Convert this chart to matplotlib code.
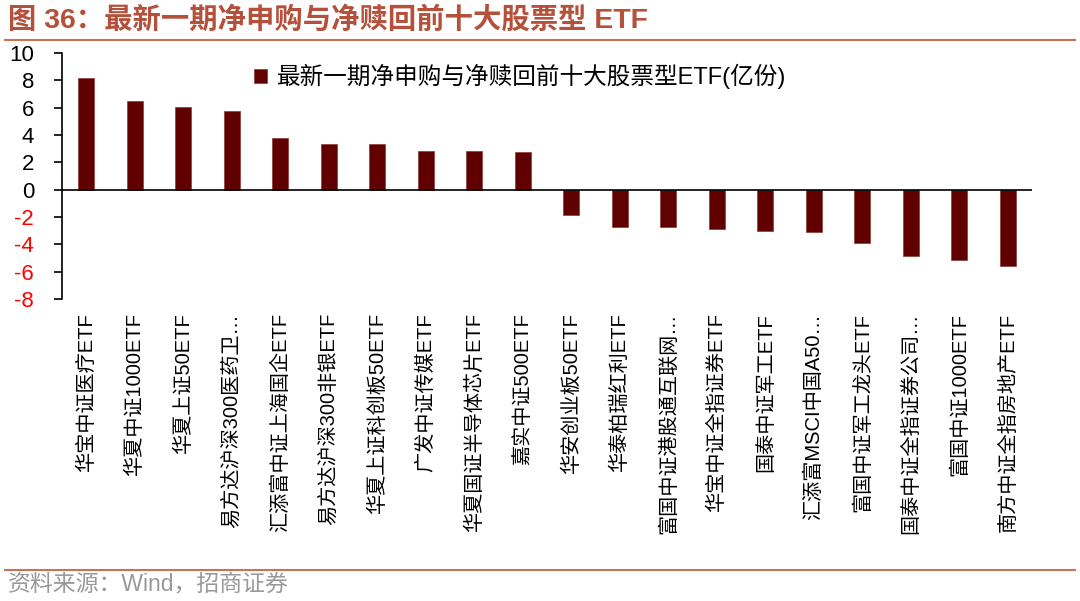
import matplotlib
matplotlib.use("Agg")
import matplotlib.pyplot as plt
from matplotlib.lines import Line2D

plt.rcParams['font.family'] = ['Liberation Sans', 'Noto Sans CJK SC', 'DejaVu Sans']
plt.rcParams['axes.unicode_minus'] = False

# ETF names (truncated ones as in the source chart)
names = ['华宝中证医疗ETF', '华夏中证1000ETF', '华夏上证50ETF', '易方达沪深300医药卫…',
         '汇添富中证上海国企ETF', '易方达沪深300非银ETF', '华夏上证科创板50ETF',
         '广发中证传媒ETF', '华夏国证半导体芯片ETF', '嘉实中证500ETF',
         '华安创业板50ETF', '华泰柏瑞红利ETF', '富国中证港股通互联网…', '华宝中证全指证券ETF',
         '国泰中证军工ETF', '汇添富MSCI中国A50…', '富国中证军工龙头ETF',
         '国泰中证全指证券公司…', '富国中证1000ETF', '南方中证全指房地产ETF']
# net subscription / redemption, 亿份
values = [8.14, 6.46, 6.07, 5.78, 3.75, 3.37, 3.32, 2.82, 2.80, 2.78,
          -1.88, -2.70, -2.70, -2.90, -3.05, -3.10, -3.90, -4.85, -5.15, -5.55]
legend_label = '最新一期净申购与净赎回前十大股票型ETF(亿份)'

fig = plt.figure(figsize=(10.8, 6.01), dpi=100)
ax = fig.add_axes([0.0574, 0.5025, 0.8982, 0.4093])

x = range(len(names))
ax.bar(x, values, width=0.33, color='#600000', edgecolor='#8a3a3a', linewidth=0.5,
       label=legend_label, zorder=2)
ax.axhline(0, color='black', linewidth=1.2, zorder=3)

ax.set_xlim(-0.5, len(names) - 0.5)
ax.set_ylim(-8, 10)
ax.set_yticks(range(-8, 11, 2))
ax.tick_params(axis='y', direction='out', length=6, width=1.2, labelsize=16, pad=14)
for lab in ax.get_yticklabels():
    if float(lab.get_text()) < 0:
        lab.set_color('red')

ax.set_xticks(list(x))
ax.set_xticklabels(names, rotation=90, fontsize=14.5, va='top', ha='center')
ax.tick_params(axis='x', length=0, pad=10)

for s in ['top', 'right', 'bottom']:
    ax.spines[s].set_visible(False)
ax.spines['left'].set_linewidth(1.2)

ax.legend(loc='center left', bbox_to_anchor=(0.198, 0.905), frameon=False,
          fontsize=17, handlelength=0.55, handleheight=0.55, handletextpad=0.4,
          borderpad=0, borderaxespad=0)

# title and source
fig.text(0.007, 0.966, '图 36：最新一期净申购与净赎回前十大股票型 ETF', fontsize=20.4,
         fontweight='bold', color='#b5503a', va='center', ha='left')
fig.add_artist(Line2D([0.005, 0.995], [0.933, 0.933], color='#c87256', linewidth=1.5))
fig.add_artist(Line2D([0.005, 0.995], [0.052, 0.052], color='#c87256', linewidth=1.5))
fig.text(0.007, 0.026, '资料来源：Wind，招商证券', fontsize=16.5, color='#999999',
         va='center', ha='left')

fig.savefig('out.png', dpi=100)
